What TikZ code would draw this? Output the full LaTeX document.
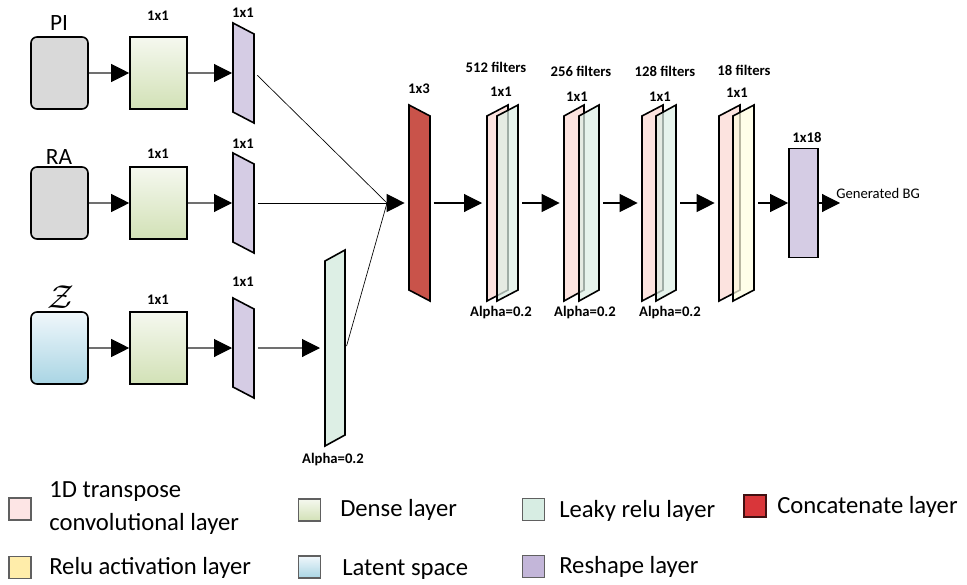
\documentclass[tikz,border=0pt]{standalone}
\usepackage{fontspec}
\setmainfont{Carlito}
\usetikzlibrary{arrows.meta,fit}
\definecolor{ingray}{HTML}{D9D9D9}
\definecolor{denT}{HTML}{F5F8EF}
\definecolor{denB}{HTML}{D2E1B6}
\definecolor{latT}{HTML}{F0F7FB}
\definecolor{latB}{HTML}{A9D5E4}
\definecolor{reshp}{HTML}{D5CCE4}
\definecolor{leakc}{HTML}{DDEFE5}
\definecolor{pinkc}{HTML}{FCE3DF}
\definecolor{yelc}{HTML}{FFFDE0}
\definecolor{catc}{HTML}{C9534A}
\definecolor{linegray}{HTML}{707070}
\definecolor{leggray}{HTML}{606060}
\definecolor{lgpink}{HTML}{FDE5E5}
\definecolor{lgrelu}{HTML}{FFEDAA}
\definecolor{lgleak}{HTML}{D7EDE3}
\definecolor{lgcat}{HTML}{D9363A}
\definecolor{lgresh}{HTML}{C3B6D9}
\begin{document}
\begin{tikzpicture}[x=0.75pt,y=-0.75pt,
  box/.style={draw=black,line width=1.2pt,minimum width=42.75pt,minimum height=54pt,inner sep=0},
  inbox/.style={box,rounded corners=4.5pt,fill=ingray},
  latbox/.style={box,rounded corners=4.5pt,top color=latT,bottom color=latB},
  densebox/.style={box,top color=denT,bottom color=denB},
  edge/.style={draw=black,line width=1.2pt,line join=miter},
  hit/.style={inner sep=0,outer sep=0.75pt},
  arr/.style={draw=linegray,line width=0.8pt,-{Triangle[length=13.5pt,width=13.5pt,color=black]}},
  thinline/.style={draw=black,line width=0.5pt},
  lbl/.style={font=\bfseries\fontsize{11}{13}\selectfont,inner sep=0},
  big/.style={font=\fontsize{17.5}{20}\selectfont,inner sep=0},
  legsq/.style={draw=leggray,line width=0.8pt,minimum size=16.5pt,inner sep=0},
  legtxt/.style={anchor=west,font=\fontsize{18.5}{24.75}\selectfont,align=left,inner sep=0}
]
\useasboundingbox (0,0) rectangle (967,585);

% ---- inputs
\node[inbox] (g1) at (59.5,73) {};
\node[inbox] (g2) at (59.5,203) {};
\node[latbox] (g3) at (59.5,348) {};
\node[big] (tPI) at (59,23) {PI};
\node[big] (tRA) at (59,157) {RA};
\node[inner sep=0] (tZ) at (61,297) {\fontsize{24}{26}\selectfont$\mathcal{Z}$};

% ---- dense
\node[densebox] (d1) at (158.5,73) {};
\node[densebox] (d2) at (158.5,203) {};
\node[densebox] (d3) at (158.5,348) {};
\node[lbl] (ld1) at (158,16) {1x1};
\node[lbl] (ld2) at (158,154) {1x1};
\node[lbl] (ld3) at (158,300) {1x1};

% ---- reshape
\draw[edge,fill=reshp] (233,23) -- (254,34) -- (254,123) -- (233,112) -- cycle;
\draw[edge,fill=reshp] (233,153) -- (254,164) -- (254,253) -- (233,242) -- cycle;
\draw[edge,fill=reshp] (233,298) -- (254,309) -- (254,398) -- (233,387) -- cycle;
\node[hit,fit={(233,23)(254,123)}] (r1) {};
\node[hit,fit={(233,153)(254,253)}] (r2) {};
\node[hit,fit={(233,298)(254,398)}] (r3) {};
\node[lbl] (lr1) at (243,13) {1x1};
\node[lbl] (lr2) at (243,144) {1x1};
\node[lbl] (lr3) at (243,282) {1x1};

% ---- leaky after latent
\draw[edge,fill=leakc] (325,261) -- (345,250) -- (345,435) -- (325,446) -- cycle;
\node[hit,fit={(325,250)(345,446)}] (lk) {};
\node[lbl] (alk) at (333,460) {Alpha=0.2};

% ---- concat
\draw[edge,fill=catc] (409,105) -- (430,116) -- (430,301) -- (409,290) -- cycle;
\node[hit,fit={(409,105)(430,301)}] (cat) {};
\node[lbl] (lcat) at (419,89) {1x3};
\coordinate (m) at (387,203);

% ---- conv blocks
\draw[edge,fill=pinkc] (487,116) -- (508,105) -- (508,290) -- (487,301) -- cycle;
\draw[edge,fill=leakc,fill opacity=0.72] (497,116) -- (518,105) -- (518,290) -- (497,301) -- cycle;
\node[hit,fit={(487,105)(518,301)}] (c1) {};
\draw[edge,fill=pinkc] (564,116) -- (584,105) -- (584,290) -- (564,301) -- cycle;
\draw[edge,fill=leakc,fill opacity=0.72] (579,116) -- (599,105) -- (599,290) -- (579,301) -- cycle;
\node[hit,fit={(564,105)(599,301)}] (c2) {};
\draw[edge,fill=pinkc] (642,116) -- (663,105) -- (663,290) -- (642,301) -- cycle;
\draw[edge,fill=leakc,fill opacity=0.72] (656,116) -- (676,105) -- (676,290) -- (656,301) -- cycle;
\node[hit,fit={(642,105)(676,301)}] (c3) {};
\draw[edge,fill=pinkc] (719,116) -- (740,105) -- (740,290) -- (719,301) -- cycle;
\draw[edge,fill=yelc,fill opacity=0.72] (733,116) -- (754,105) -- (754,290) -- (733,301) -- cycle;
\node[hit,fit={(719,105)(754,301)}] (c4) {};

\node[lbl] (f1) at (496,67) {512 filters};
\node[lbl] (f2) at (581,71) {256 filters};
\node[lbl] (f3) at (665,71) {128 filters};
\node[lbl] (f4) at (744,70) {18 filters};
\node[lbl] (k1) at (501,92) {1x1};
\node[lbl] (k2) at (577,97) {1x1};
\node[lbl] (k3) at (660,97) {1x1};
\node[lbl] (k4) at (737,93) {1x1};
\node[lbl] (a1) at (501,313) {Alpha=0.2};
\node[lbl] (a2) at (585,313) {Alpha=0.2};
\node[lbl] (a3) at (670,313) {Alpha=0.2};

% ---- output reshape
\node[draw=black,line width=1.2pt,fill=reshp,minimum width=21.75pt,minimum height=81.75pt,inner sep=0] (out) at (803.5,203) {};
\node[lbl] (lout) at (807,137) {1x18};
\coordinate (o) at (840,203);
\node[anchor=west,inner sep=0,font=\fontsize{11}{13}\selectfont] (gbg) at (836,193) {Generated BG};

% ---- connectors
\draw[arr] (g1) -- (d1);
\draw[arr] (g2) -- (d2);
\draw[arr] (g3) -- (d3);
\draw[arr] (d1) -- (r1);
\draw[arr] (d2) -- (r2);
\draw[arr] (d3) -- (r3);
\draw[arr,shorten <=2pt,shorten >=3pt] (r3) -- (lk);
\draw[thinline,shorten <=2.5pt] (r1.east) -- (m);
\draw[thinline,shorten <=2.5pt] (r2.east) -- (m);
\draw[thinline,shorten <=1.5pt] (lk.east) -- (m);
\draw[arr,draw=black,shorten >=2.5pt] (m) -- (cat);
\draw[arr,draw=black,shorten <=2pt,shorten >=3pt] (cat) -- (c1);
\draw[arr,draw=black,shorten <=2.5pt,shorten >=2.5pt] (c1) -- (c2);
\draw[arr,draw=black,shorten <=2.5pt,shorten >=2.5pt] (c2) -- (c3);
\draw[arr,draw=black,shorten <=2.5pt,shorten >=2.5pt] (c3) -- (c4);
\draw[arr,draw=black,shorten <=2.5pt] (c4) -- (out);
\draw[arr,draw=black] (out) -- (o);

% ---- legend
\node[legsq,fill=lgpink] (q1) at (20,509) {};
\node[legtxt] (t1) at (49,508.5) {1D transpose\\convolutional layer};
\node[legsq,top color=denT,bottom color=denB] (q2) at (309.5,510) {};
\node[legtxt] (t2) at (340,510) {Dense layer};
\node[legsq,fill=lgrelu] (q3) at (20,567.5) {};
\node[legtxt] (t3) at (49,568) {Relu activation layer};
\node[legsq,top color=latT,bottom color=latB] (q4) at (309.5,567) {};
\node[legtxt] (t4) at (342,570) {Latent space};
\node[legsq,fill=lgleak] (q5) at (533.5,509.5) {};
\node[legtxt] (t5) at (559,511) {Leaky relu layer};
\node[legsq,fill=lgcat,draw=black!70!lgcat] (q6) at (755,506) {};
\node[legtxt] (t6) at (777,507) {Concatenate layer};
\node[legsq,fill=lgresh] (q7) at (533.5,566.5) {};
\node[legtxt] (t7) at (559,567) {Reshape layer};
\end{tikzpicture}
\end{document}
